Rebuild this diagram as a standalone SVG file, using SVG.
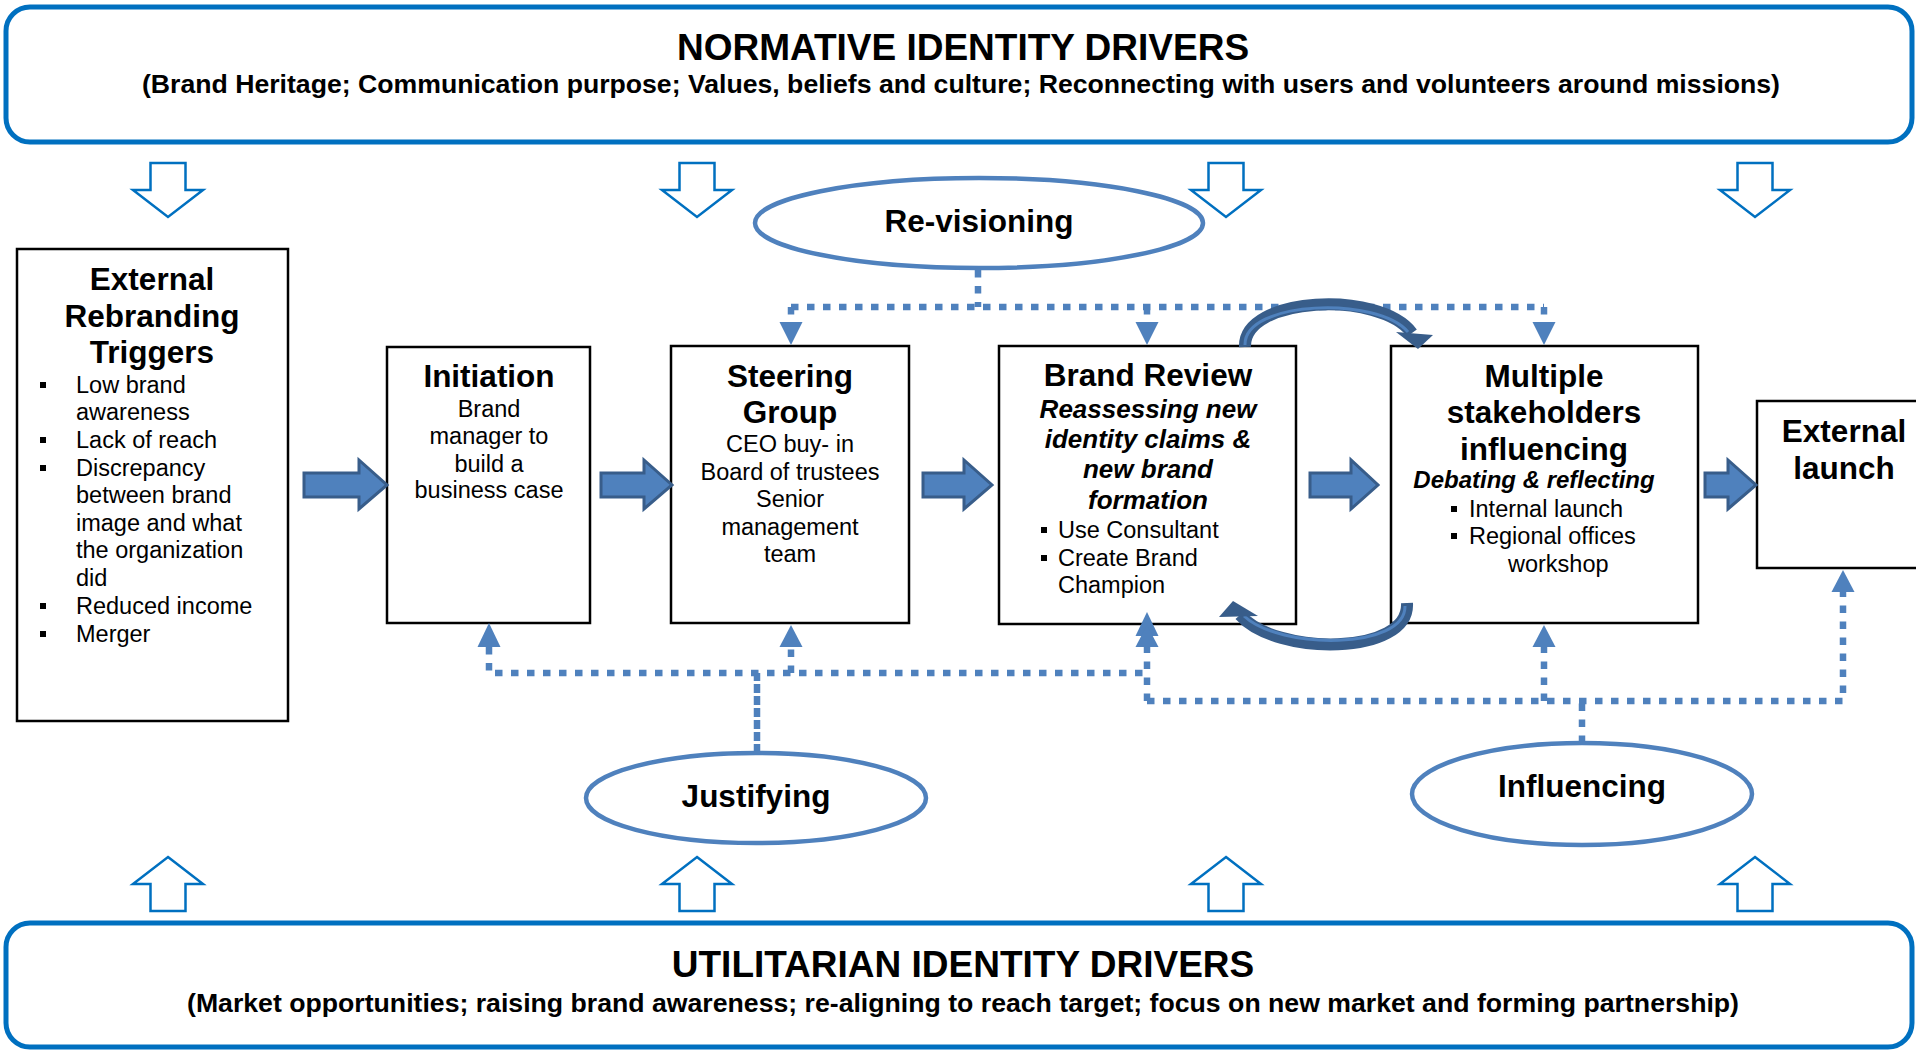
<svg xmlns="http://www.w3.org/2000/svg" width="1916" height="1050" viewBox="0 0 1916 1050">
<style>
text{font-family:"Liberation Sans",Arial,sans-serif;fill:#000}
.t{font-size:31.5px;font-weight:bold;text-anchor:middle}
.b{font-size:23.5px;text-anchor:middle}
.l{font-size:23.5px}
.bi{font-weight:bold;font-style:italic;text-anchor:middle}
.big{font-size:37px;font-weight:bold;text-anchor:middle}
.sub{font-size:26.5px;font-weight:bold;text-anchor:middle}
.box{fill:#fff;stroke:#000;stroke-width:2.5}
.drv{fill:#fff;stroke:#0070C0;stroke-width:5}
.hol{fill:#fff;stroke:#0070C0;stroke-width:2.5}
.blk{fill:#4F81BD;stroke:#385D8A;stroke-width:3}
.ell{fill:#fff;stroke:#4F81BD;stroke-width:4.5}
.dot{fill:none;stroke:#4F81BD;stroke-width:6.5;stroke-dasharray:7.5 8.5}
.ah{fill:#4F81BD}
.bul{fill:#000}
.crv{fill:none;stroke:#385D8A;stroke-width:12;stroke-linecap:butt}
.crvi{fill:none;stroke:#4F81BD;stroke-width:3}
.crh{fill:#385D8A}
</style>

<g id="normative">
<rect class="drv" x="6" y="7" width="1906" height="135" rx="24"/>
<text class="big" x="963" y="60">NORMATIVE IDENTITY DRIVERS</text>
<text class="sub" x="961" y="93" textLength="1638" lengthAdjust="spacingAndGlyphs">(Brand Heritage; Communication purpose; Values, beliefs and culture; Reconnecting with users and volunteers around missions)</text>
</g>

<g id="utilitarian">
<rect class="drv" x="6" y="923" width="1906" height="124" rx="24"/>
<text class="big" x="963" y="977">UTILITARIAN IDENTITY DRIVERS</text>
<text class="sub" x="963" y="1012" textLength="1552" lengthAdjust="spacingAndGlyphs">(Market opportunities; raising brand awareness; re-aligning to reach target; focus on new market and forming partnership)</text>
</g>

<g id="revisioning">
<ellipse class="ell" cx="979" cy="223" rx="224" ry="45"/>
<text class="t" x="979" y="232">Re-visioning</text>
</g>

<g id="justifying">
<ellipse class="ell" cx="756" cy="798" rx="170" ry="45"/>
<text class="t" x="756" y="807">Justifying</text>
</g>

<g id="influencing">
<ellipse class="ell" cx="1582" cy="794" rx="170" ry="51"/>
<text class="t" x="1582" y="797">Influencing</text>
</g>

<g id="triggers">
<rect class="box" x="17" y="249" width="271" height="472"/>
<text class="t" x="152" y="290">External</text>
<text class="t" x="152" y="327">Rebranding</text>
<text class="t" x="152" y="363">Triggers</text>
<rect class="bul" x="40" y="382" width="6" height="6"/>
<text class="l" x="76" y="393">Low brand</text>
<text class="l" x="76" y="420">awareness</text>
<rect class="bul" x="40" y="437" width="6" height="6"/>
<text class="l" x="76" y="448">Lack of reach</text>
<rect class="bul" x="40" y="465" width="6" height="6"/>
<text class="l" x="76" y="476">Discrepancy</text>
<text class="l" x="76" y="503">between brand</text>
<text class="l" x="76" y="531">image and what</text>
<text class="l" x="76" y="558">the organization</text>
<text class="l" x="76" y="586">did</text>
<rect class="bul" x="40" y="603" width="6" height="6"/>
<text class="l" x="76" y="614">Reduced income</text>
<rect class="bul" x="40" y="631" width="6" height="6"/>
<text class="l" x="76" y="642">Merger</text>
</g>

<g id="initiation">
<rect class="box" x="387" y="347" width="203" height="276"/>
<text class="t" x="489" y="387">Initiation</text>
<text class="b" x="489" y="417">Brand</text>
<text class="b" x="489" y="444">manager to</text>
<text class="b" x="489" y="472">build a</text>
<text class="b" x="489" y="498">business case</text>
</g>

<g id="steering">
<rect class="box" x="671" y="346" width="238" height="277"/>
<text class="t" x="790" y="387">Steering</text>
<text class="t" x="790" y="423">Group</text>
<text class="b" x="790" y="452">CEO buy- in</text>
<text class="b" x="790" y="480">Board of trustees</text>
<text class="b" x="790" y="507">Senior</text>
<text class="b" x="790" y="535">management</text>
<text class="b" x="790" y="562">team</text>
</g>

<g id="brand-review">
<rect class="box" x="999" y="346" width="297" height="278"/>
<text class="t" x="1148" y="386">Brand Review</text>
<text class="bi" x="1148" y="418" font-size="26">Reassessing new</text>
<text class="bi" x="1148" y="448" font-size="26">identity claims &amp;</text>
<text class="bi" x="1148" y="478" font-size="26">new brand</text>
<text class="bi" x="1148" y="509" font-size="26">formation</text>
<rect class="bul" x="1041" y="527" width="6" height="6"/>
<text class="l" x="1058" y="538">Use Consultant</text>
<rect class="bul" x="1041" y="555" width="6" height="6"/>
<text class="l" x="1058" y="566">Create Brand</text>
<text class="l" x="1058" y="593">Champion</text>
</g>

<g id="stakeholders">
<rect class="box" x="1391" y="346" width="307" height="277"/>
<text class="t" x="1544" y="387">Multiple</text>
<text class="t" x="1544" y="423">stakeholders</text>
<text class="t" x="1544" y="460">influencing</text>
<text class="bi" x="1534" y="488" font-size="24">Debating &amp; reflecting</text>
<rect class="bul" x="1451" y="506" width="6" height="6"/>
<text class="l" x="1469" y="517">Internal launch</text>
<rect class="bul" x="1451" y="533" width="6" height="6"/>
<text class="l" x="1469" y="544">Regional offices</text>
<text class="l" x="1508" y="572">workshop</text>
</g>

<g id="external-launch">
<rect class="box" x="1757" y="401" width="170" height="167"/>
<text class="t" x="1844" y="442">External</text>
<text class="t" x="1844" y="479">launch</text>
</g>

<g id="driver-arrows">
<polygon class="hol" points="150.5,163 185.5,163 185.5,190 203,190 168,217 133,190 150.5,190"/>
<polygon class="hol" points="679.5,163 714.5,163 714.5,190 732,190 697,217 662,190 679.5,190"/>
<polygon class="hol" points="1208.5,163 1243.5,163 1243.5,190 1261,190 1226,217 1191,190 1208.5,190"/>
<polygon class="hol" points="1737.5,163 1772.5,163 1772.5,190 1790,190 1755,217 1720,190 1737.5,190"/>
<polygon class="hol" points="168,857 203,884 185.5,884 185.5,911 150.5,911 150.5,884 133,884"/>
<polygon class="hol" points="697,857 732,884 714.5,884 714.5,911 679.5,911 679.5,884 662,884"/>
<polygon class="hol" points="1226,857 1261,884 1243.5,884 1243.5,911 1208.5,911 1208.5,884 1191,884"/>
<polygon class="hol" points="1755,857 1790,884 1772.5,884 1772.5,911 1737.5,911 1737.5,884 1720,884"/>
</g>

<g id="connectors">
<path class="dot" d="M978,270 V307 M791,307 H1544 M791,307 V322 M1147,307 V322 M1544,307 V322"/>
<polygon class="ah" points="779.5,322 802.5,322 791,345"/>
<polygon class="ah" points="1135.5,322 1158.5,322 1147,345"/>
<polygon class="ah" points="1532.5,322 1555.5,322 1544,345"/>
<path class="dot" d="M489,647 V673 H1147 M791,673 V647"/>
<path class="dot" d="M757,753 V673" style="stroke-dasharray:9 3"/>
<path class="dot" d="M1147,701 V636 M1147,701 H1843 V592 M1544,701 V647 M1582,743 V701"/>
<polygon class="ah" points="489,623 500.5,647 477.5,647"/>
<polygon class="ah" points="791,625 802.5,647 779.5,647"/>
<polygon class="ah" points="1147,612 1158.5,636 1135.5,636"/>
<polygon class="ah" points="1147,625 1158.5,647 1135.5,647"/>
<polygon class="ah" points="1544,625 1555.5,647 1532.5,647"/>
<polygon class="ah" points="1843,570 1854.5,592 1831.5,592"/>
<polygon class="blk" points="304,473 359,473 359,460 387,485 359,509 359,497 304,497"/>
<polygon class="blk" points="601,473 644,473 644,460 672,485 644,509 644,497 601,497"/>
<polygon class="blk" points="923,473 964,473 964,460 992,485 964,509 964,497 923,497"/>
<polygon class="blk" points="1310,473 1351,473 1351,460 1378,485 1351,509 1351,497 1310,497"/>
<polygon class="blk" points="1705,473 1728,473 1728,460 1756,485 1728,509 1728,497 1705,497"/>
<path class="crv" d="M1245,347 C1243,296 1380,290 1412,333"/>
<path class="crvi" d="M1245,345 C1244,300 1378,296 1408,332"/>
<polygon class="crh" points="1396,332 1433,335 1418,349"/>
<path class="crv" d="M1407,603 C1410,656 1276,656 1240,615"/>
<path class="crvi" d="M1405,606 C1406,650 1280,650 1244,616"/>
<polygon class="crh" points="1233,601 1219,617 1258,616"/>
</g>
</svg>
